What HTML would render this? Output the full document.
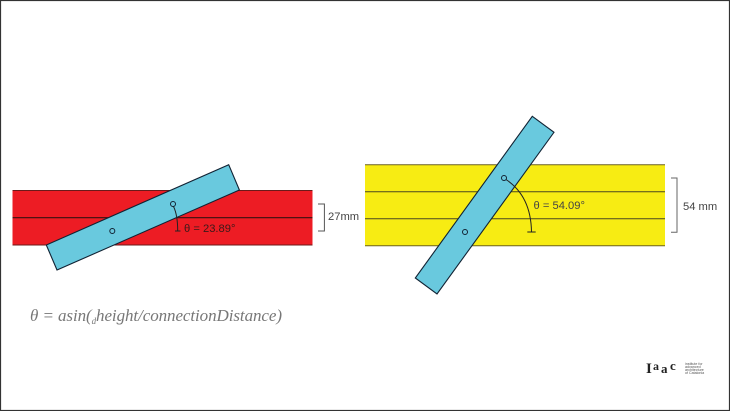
<!DOCTYPE html>
<html><head><meta charset="utf-8"><style>
html,body{margin:0;padding:0;background:#fff;width:730px;height:411px;overflow:hidden}
svg{display:block;filter:blur(.35px)}
</style></head><body>
<svg width="730" height="411" viewBox="0 0 730 411" xmlns="http://www.w3.org/2000/svg">
<rect x="0.5" y="0.5" width="729" height="410" fill="#fff" stroke="#333" stroke-width="1.2"/>
<!-- left -->
<rect x="12.5" y="190.5" width="300" height="54.5" fill="#ed1c24"/>
<path d="M12.5 190.5H312.5M12.5 245H312.5" stroke="#6b1a1a" stroke-width="1" fill="none"/>
<line x1="12.5" y1="217.7" x2="312.5" y2="217.7" stroke="#3a1010" stroke-width="1.1"/>
<polygon points="228.7,164.7 239.4,190 57,270 46.3,245" fill="#69c9de" stroke="#123" stroke-width="1.1"/>
<circle cx="173" cy="204" r="2.5" fill="none" stroke="#123" stroke-width="1"/>
<circle cx="112.3" cy="231" r="2.5" fill="none" stroke="#123" stroke-width="1"/>
<path d="M173.5 206.5Q177.7 215 177.7 231M175 231H180.5" fill="none" stroke="#222" stroke-width="1"/>
<text x="184" y="232" font-family="Liberation Sans,sans-serif" font-size="11.2" fill="#3a1a1a">θ = 23.89°</text>
<path d="M318 204H324.4V231H318" fill="none" stroke="#555" stroke-width="1"/>
<text x="328" y="220" font-family="Liberation Sans,sans-serif" font-size="11.2" fill="#444">27mm</text>
<!-- right -->
<rect x="365" y="164.7" width="300" height="81" fill="#f7ec13"/>
<path d="M365 164.7H665M365 245.7H665" stroke="#6b6020" stroke-width="1" fill="none"/>
<line x1="365" y1="191.7" x2="665" y2="191.7" stroke="#4a4620" stroke-width="1"/>
<line x1="365" y1="218.7" x2="665" y2="218.7" stroke="#4a4620" stroke-width="1"/>
<polygon points="532.3,116.3 554,132.3 437,294 415.3,278" fill="#69c9de" stroke="#123" stroke-width="1.1"/>
<circle cx="504" cy="178" r="2.5" fill="none" stroke="#123" stroke-width="1"/>
<circle cx="465" cy="232" r="2.5" fill="none" stroke="#123" stroke-width="1"/>
<path d="M506 179.5Q531 196 531.5 232M527.3 232H535.7" fill="none" stroke="#222" stroke-width="1"/>
<text x="533.5" y="209" font-family="Liberation Sans,sans-serif" font-size="11.2" fill="#444">θ = 54.09°</text>
<path d="M671 178H677V232.3H671" fill="none" stroke="#666" stroke-width="1"/>
<text x="683" y="210" font-family="Liberation Sans,sans-serif" font-size="11.2" fill="#444">54 mm</text>
<!-- formula -->
<text x="30" y="321" font-family="Liberation Serif,serif" font-style="italic" font-size="17" fill="#777" textLength="252" lengthAdjust="spacing">θ = asin(<tspan font-size="9" dy="3">d</tspan><tspan dy="-3">height/connectionDistance)</tspan></text>
<!-- logo -->
<text x="646" y="373" font-family="Liberation Serif,serif" font-weight="bold" font-size="15" fill="#222">I</text>
<text x="653" y="370" font-family="Liberation Serif,serif" font-weight="bold" font-size="12" fill="#222">a</text>
<text x="661" y="373" font-family="Liberation Serif,serif" font-weight="bold" font-size="13" fill="#222">a</text>
<text x="670" y="370" font-family="Liberation Serif,serif" font-weight="bold" font-size="13" fill="#222">c</text>
<g font-family="Liberation Sans,sans-serif" font-size="3.6" fill="#555">
<text x="685" y="365">institute for</text><text x="685" y="368">advanced</text><text x="685" y="371">architecture</text><text x="685" y="374">of Catalonia</text>
</g>
</svg>
</body></html>
